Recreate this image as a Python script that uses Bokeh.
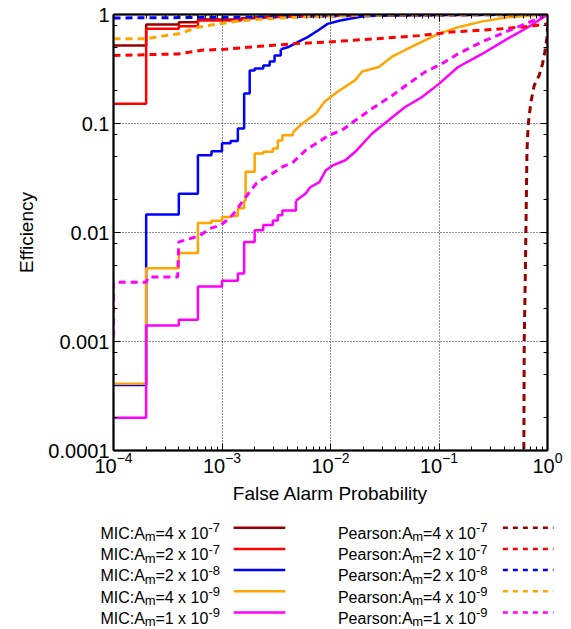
from bokeh.plotting import figure
from bokeh.models import (FixedTicker, LogAxis, CustomJSTickFormatter, LogTickFormatter,
                          Range1d, Label)
from bokeh.layouts import column
from bokeh.embed import file_html
from bokeh.resources import INLINE

# ---------------- data ----------------
# MIC curves (solid, empirical step curves)
mic_4e7_fap = [1e-4, 2e-4, 4e-4, 6e-4, 1.5e-3, 3e-3, 1e-2, 1e-1, 1.0]
mic_4e7_eff = [0.52, 0.81, 0.85, 0.90, 0.925, 0.96, 0.98, 0.995, 1.0]

mic_2e7_fap = [1e-4, 2e-4, 4e-4, 6e-4, 1.5e-3, 3e-3, 1e-2, 1e-1, 1.0]
mic_2e7_eff = [0.152, 0.74, 0.78, 0.88, 0.91, 0.95, 0.975, 0.99, 1.0]

mic_2e8_fap = [1e-4, 2e-4, 4e-4, 6e-4, 8e-4, 1e-3, 1.2e-3, 1.4e-3, 1.6e-3, 1.8e-3, 2.0e-3,
               2.4e-3, 2.75e-3, 3.05e-3, 3.48e-3, 4.03e-3, 4.98e-3, 6.15e-3, 7.6e-3, 9.4e-3,
               1.23e-2, 1.64e-2, 2.1e-2, 6e-2, 1.0]
mic_2e8_eff = [0.0004, 0.0146, 0.0227, 0.051, 0.0556, 0.066, 0.069, 0.09, 0.188, 0.306, 0.32,
               0.34, 0.37, 0.42, 0.48, 0.5, 0.557, 0.62, 0.71, 0.82,
               0.88, 0.93, 0.97, 0.99, 1.0]

mic_4e9_fap = [1e-4, 2e-4, 4e-4, 6e-4, 8e-4, 1e-3, 1.2e-3, 1.4e-3, 1.6e-3, 1.65e-3, 2e-3,
               2.4e-3, 2.94e-3, 3.27e-3, 3.6e-3, 4.5e-3, 5.5e-3, 7.3e-3, 8.9e-3, 1e-2, 1.2e-2,
               1.69e-2, 1.96e-2, 2.79e-2, 3.69e-2, 4.84e-2, 6.93e-2, 9.86e-2, 0.15, 0.245,
               0.43, 1.0]
mic_4e9_eff = [0.00041, 0.0047, 0.0065, 0.0122, 0.0128, 0.0139, 0.0142, 0.0167, 0.0196, 0.036,
               0.053, 0.055, 0.059, 0.07, 0.078, 0.083, 0.1, 0.123, 0.16, 0.175, 0.2,
               0.25, 0.3, 0.33, 0.41, 0.47, 0.56, 0.665, 0.765, 0.86,
               0.945, 1.0]

mic_1e9_fap = [1e-4, 2e-4, 4e-4, 6e-4, 1e-3, 1.4e-3, 1.6e-3, 2e-3, 2.4e-3, 2.94e-3, 3.27e-3,
               3.6e-3, 4.8e-3, 5.9e-3, 6.5e-3, 7.9e-3, 9e-3, 1.04e-2, 1.37e-2, 1.69e-2,
               2.42e-2, 3.43e-2, 4.84e-2, 6.93e-2, 0.1, 0.15, 0.245, 0.43, 0.656, 1.0]
mic_1e9_eff = [0.0002, 0.0014, 0.00158, 0.0032, 0.0036, 0.0042, 0.0082, 0.0105, 0.0117, 0.0129,
               0.0144, 0.0159, 0.0196, 0.0228, 0.026, 0.029, 0.037, 0.041, 0.046, 0.055,
               0.081, 0.107, 0.141, 0.174, 0.231, 0.33, 0.43, 0.6, 0.76, 1.0]

# Pearson curves (dashed)
pea_4e7_fap = [0.605, 0.61, 0.624, 0.633, 0.647, 0.665, 0.703, 0.754, 0.838, 0.9, 0.944, 0.986, 1.0]
pea_4e7_eff = [0.00008, 0.001, 0.0039, 0.011, 0.057, 0.099, 0.157, 0.223, 0.276, 0.353, 0.45, 0.6, 0.765]

pea_2e7_fap = [1e-4, 2.35e-4, 3.97e-4, 6.45e-4, 1.06e-3, 1.74e-3, 2.82e-3, 4.6e-3, 8.7e-3,
               1.64e-2, 6.5e-2, 0.13, 0.324, 0.70, 1.0]
pea_2e7_eff = [0.42, 0.43, 0.435, 0.47, 0.48, 0.5, 0.52, 0.54, 0.557,
               0.58, 0.64, 0.69, 0.73, 0.78, 0.82]

pea_2e8_fap = [1e-4, 1e-3, 3e-3, 1e-2, 0.1, 1.0]
pea_2e8_eff = [0.93, 0.94, 0.95, 0.97, 0.99, 1.0]

pea_4e9_fap = [1e-4, 2e-4, 3e-4, 4e-4, 6.05e-4, 9.2e-4, 1.51e-3, 2.47e-3, 4.6e-3, 1.23e-2, 0.1, 1.0]
pea_4e9_eff = [0.6, 0.6, 0.64, 0.665, 0.765, 0.82, 0.88, 0.91, 0.945, 0.98, 0.995, 1.0]

pea_1e9_fap = [1e-4, 1e-4, 2e-4, 2.1e-4, 3.9e-4, 4e-4, 5.1e-4, 6.3e-4, 7.75e-4, 9.8e-4, 1.18e-3,
               1.36e-3, 1.56e-3, 1.8e-3, 2.06e-3, 2.38e-3, 2.94e-3, 3.6e-3, 4.5e-3, 5.93e-3,
               9.7e-3, 1.28e-2, 1.7e-2, 2.42e-2, 3.68e-2, 5.2e-2, 7.4e-2, 0.106, 0.15, 0.245,
               0.374, 0.57, 1.0]
pea_1e9_eff = [0.0011, 0.0035, 0.0035, 0.0039, 0.0039, 0.0082, 0.0088, 0.0094, 0.0109, 0.0117,
               0.0136, 0.016, 0.0196, 0.0236, 0.028, 0.031, 0.035, 0.04, 0.044, 0.057,
               0.078, 0.087, 0.107, 0.137, 0.18, 0.231, 0.296, 0.353, 0.436, 0.557,
               0.665, 0.79, 1.0]

# legend entries
amp_mantissa = ["4", "2", "2", "4", "1"]
amp_exponent = ["-7", "-7", "-8", "-9", "-9"]
colors = ["#990000", "#ff0000", "#0000ff", "#ffa500", "#ff00ff"]
methods = ["MIC", "Pearson"]

# tick values
x_major = [1e-4, 1e-3, 1e-2, 1e-1, 1.0]
x_minor = [m * 10.0 ** e for e in range(-4, 0) for m in range(2, 10)]
y_major = [1e-4, 1e-3, 1e-2, 1e-1, 1.0]
y_minor = [m * 10.0 ** e for e in range(-4, 0) for m in (2, 5, 8)]

mic_series = [(mic_4e7_fap, mic_4e7_eff, 6e-4), (mic_2e7_fap, mic_2e7_eff, 6e-4),
              (mic_2e8_fap, mic_2e8_eff, 3.05e-3), (mic_4e9_fap, mic_4e9_eff, 3.6e-3),
              (mic_1e9_fap, mic_1e9_eff, 3.6e-3)]
pea_series = [(pea_4e7_fap, pea_4e7_eff), (pea_2e7_fap, pea_2e7_eff), (pea_2e8_fap, pea_2e8_eff),
              (pea_4e9_fap, pea_4e9_eff), (pea_1e9_fap, pea_1e9_eff)]

FONT = "Liberation Sans"
W_TOTAL, H_MAIN, H_LEG = 571, 510, 119
M_LEFT, M_RIGHT = 13, 8            # css margins of the main plot
B_LEFT, B_RIGHT = 97, 16           # inner borders (shared by both plots)

# ---------------- main plot ----------------
p = figure(width=W_TOTAL - M_LEFT - M_RIGHT, height=H_MAIN, x_axis_type="log", y_axis_type="log",
           x_range=Range1d(1e-4, 1.0), y_range=Range1d(1e-4, 1.0),
           output_backend="svg", toolbar_location=None, margin=(0, M_RIGHT, 0, M_LEFT),
           min_border_left=B_LEFT, min_border_right=B_RIGHT, min_border_top=14,
           min_border_bottom=60)
p.background_fill_color = "white"
p.border_fill_color = "white"
p.outline_line_color = "black"
p.outline_line_width = 1.5

xt = FixedTicker(ticks=x_major, minor_ticks=x_minor)
yt = FixedTicker(ticks=y_major, minor_ticks=y_minor)
blank = CustomJSTickFormatter(code="return '';")


def style_axis(ax):
    ax.axis_line_width = 2
    ax.axis_line_color = "black"
    ax.major_tick_in = 7
    ax.major_tick_out = 0
    ax.minor_tick_in = 4
    ax.minor_tick_out = 0
    ax.major_tick_line_color = "black"
    ax.minor_tick_line_color = "black"
    ax.major_tick_line_width = 1
    ax.minor_tick_line_width = 1
    ax.major_label_text_font = FONT
    ax.major_label_text_font_size = "20px"
    ax.major_label_text_color = "black"
    ax.axis_label_text_font = FONT
    ax.axis_label_text_font_size = "19px"
    ax.axis_label_text_font_style = "normal"
    ax.axis_label_text_color = "black"


xa = p.xaxis[0]
ya = p.yaxis[0]
style_axis(xa)
style_axis(ya)
xa.ticker = xt
ya.ticker = yt
xa.formatter = LogTickFormatter()
ya.formatter = CustomJSTickFormatter(code="return String(tick);")
xa.axis_label = "False Alarm Probability"
ya.axis_label = "Efficiency"
xa.major_label_standoff = 1
xa.axis_label_standoff = 7
ya.major_label_standoff = 4
ya.axis_label_standoff = 8

ra = LogAxis(ticker=yt, formatter=blank)
ta = LogAxis(ticker=xt, formatter=blank)
for ax in (ra, ta):
    style_axis(ax)
    ax.major_label_text_font_size = "0px"
    ax.major_label_standoff = 0
p.add_layout(ra, "right")
p.add_layout(ta, "above")

p.xgrid.ticker = xt
p.ygrid.ticker = yt
for g in (p.xgrid, p.ygrid):
    g.grid_line_color = "black"
    g.grid_line_dash = "1 2"
    g.grid_line_alpha = 0.85
    g.grid_line_width = 1

LW = 2.5
for (fap, eff, cut), c in zip(mic_series, colors):
    k = max(i for i, f in enumerate(fap) if f <= cut) + 1
    p.step(fap[:k + 1], eff[:k + 1], mode="after", line_color=c, line_width=LW)
    p.line(fap[k:], eff[k:], line_color=c, line_width=LW)

for (fap, eff), c in zip(pea_series, colors):
    p.line(fap, eff, line_color=c, line_width=LW + 0.5, line_dash="7 5")

# ---------------- legend panel (coordinates = page pixels) ----------------
leg = figure(width=W_TOTAL, height=H_LEG,
             x_range=Range1d(B_LEFT, W_TOTAL - B_RIGHT),
             y_range=Range1d(H_MAIN + H_LEG, H_MAIN),
             output_backend="svg", toolbar_location=None,
             min_border_left=B_LEFT, min_border_right=B_RIGHT,
             min_border_top=0, min_border_bottom=0,
             x_axis_location=None, y_axis_location=None)
leg.outline_line_color = None
leg.grid.visible = False
leg.background_fill_color = "white"
leg.border_fill_color = "white"

WID = {' ': 278, ':': 278, '=': 584, '-': 333, 'x': 500, 'A': 667, 'C': 722, 'I': 278,
       'M': 833, 'P': 667, 'a': 556, 'e': 556, 'm': 833, 'n': 556, 'o': 556, 'r': 333,
       's': 500}
for d in "0123456789":
    WID[d] = 556


def tw(s, size):
    return sum(WID[ch] for ch in s) * size / 1000.0


BIG, SMALL = 16, 13
col_x = [97, 336]
line_x = [(231, 283), (502, 553)]
row_base0, row_step = 533, 21.2


def add_text(x, y, t, size):
    leg.add_layout(Label(x=x, y=y, text=t, text_font=FONT, text_font_size=f"{size}px",
                         text_color="black", text_align="left", text_baseline="alphabetic"))


for j, meth in enumerate(methods):
    for i in range(5):
        b = row_base0 + row_step * i
        x0 = col_x[j]
        s1 = meth + ":A"
        add_text(x0, b, s1, BIG)
        x1 = x0 + tw(s1, BIG)
        add_text(x1, b + 3.3, "m", SMALL)
        x2 = x1 + tw("m", SMALL)
        s3 = "=" + amp_mantissa[i] + " x 10"
        add_text(x2, b, s3, BIG)
        x3 = x2 + tw(s3, BIG) + 0.5
        add_text(x3, b - 5.7, amp_exponent[i], SMALL)

for j in range(2):
    xs, ys = [], []
    for i in range(5):
        yy = row_base0 + row_step * i - 5.8
        xs.append(list(line_x[j]))
        ys.append([yy, yy])
    leg.multi_line(xs, ys, line_color=colors, line_width=2.5,
                   line_dash="solid" if j == 0 else "5 5")

layout = column(p, leg, spacing=0)
open("out.html", "w").write(file_html(layout, INLINE))
